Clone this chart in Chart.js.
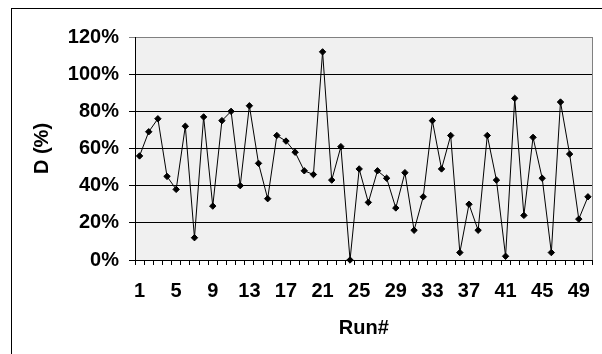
<!DOCTYPE html>
<html>
<head>
<meta charset="utf-8">
<script src="https://cdn.jsdelivr.net/npm/chart.js@4/dist/chart.umd.min.js"></script>
<style>
    html, body { margin: 0; padding: 0; background: #ffffff; }
    #wrap { width: 602px; height: 354px; }
</style>
</head>
<body>
<div id="wrap"><canvas id="runChart" width="602" height="354"></canvas></div>
<script>
    // run numbers 1..50
    const runs = [
        1, 2, 3, 4, 5, 6, 7, 8, 9, 10,
        11, 12, 13, 14, 15, 16, 17, 18, 19, 20,
        21, 22, 23, 24, 25, 26, 27, 28, 29, 30,
        31, 32, 33, 34, 35, 36, 37, 38, 39, 40,
        41, 42, 43, 44, 45, 46, 47, 48, 49, 50
    ];

    // D (%) per run
    const dValues = [
        56, 69, 76, 45, 38, 72, 12, 77, 29, 75,
        80, 40, 83, 52, 33, 67, 64, 58, 48, 46,
        112, 43, 61, 0, 49, 31, 48, 44, 28, 47,
        16, 34, 75, 49, 67, 4, 30, 16, 67, 43,
        2, 87, 24, 66, 44, 4, 85, 57, 22, 34
    ];

    const yTicks = [0, 20, 40, 60, 80, 100, 120];
    const labelEvery = 4;

    const boldFont = { family: 'Arial, "Liberation Sans", sans-serif', size: 20, weight: 'bold' };

    // outer frame, plot background and right border
    const framePlugin = {
        id: 'frame',
        beforeDraw: function(chart) {
            const ctx = chart.ctx;
            const area = chart.chartArea;
            ctx.save();
            ctx.fillStyle = '#ffffff';
            ctx.fillRect(0, 0, chart.width, chart.height);
            ctx.strokeStyle = '#000000';
            ctx.lineWidth = 1;
            ctx.strokeRect(11.5, 8.5, chart.width + 20, chart.height + 20);
            ctx.fillStyle = '#f0f0f0';
            ctx.fillRect(area.left, area.top, area.right - area.left, area.bottom - area.top);
            ctx.restore();
        },
        afterDatasetsDraw: function(chart) {
            const ctx = chart.ctx;
            const area = chart.chartArea;
            ctx.save();
            ctx.strokeStyle = '#808080';
            ctx.lineWidth = 1;
            ctx.beginPath();
            ctx.moveTo(Math.round(area.right) - 0.5, area.top);
            ctx.lineTo(Math.round(area.right) - 0.5, area.bottom);
            ctx.stroke();
            ctx.restore();
        }
    };

    new Chart(document.getElementById('runChart'), {
        type: 'line',
        data: {
            labels: runs,
            datasets: [{
                data: dValues,
                borderColor: '#000000',
                borderWidth: 1,
                backgroundColor: '#000000',
                pointStyle: 'rectRot',
                pointRadius: 3.2,
                pointBorderWidth: 1,
                pointBorderColor: '#000000',
                pointBackgroundColor: '#000000',
                tension: 0,
                fill: false,
                clip: false,
            }],
        },
        options: {
            responsive: false,
            animation: false,
            events: [],
            layout: { padding: { left: 0, top: 37, right: 6, bottom: 0 } },
            plugins: {
                legend: { display: false },
                tooltip: { enabled: false },
            },
            scales: {
                x: {
                    type: 'category',
                    offset: true,
                    afterFit: function(scale) { scale.height = 94; },
                    grid: {
                        offset: true,
                        drawOnChartArea: false,
                        drawTicks: true,
                        tickLength: 5,
                        color: '#000000',
                        lineWidth: 1,
                    },
                    border: { display: true, color: '#000000', width: 1 },
                    ticks: {
                        autoSkip: false,
                        maxRotation: 0,
                        padding: 14,
                        color: '#000000',
                        font: boldFont,
                        callback: function(value, index) {
                            return index % labelEvery === 0 ? String(runs[index]) : '';
                        },
                    },
                    title: {
                        display: true,
                        text: 'Run#',
                        color: '#000000',
                        font: boldFont,
                        padding: { top: 0, bottom: 14 },
                    },
                },
                y: {
                    min: yTicks[0],
                    max: yTicks[yTicks.length - 1],
                    afterFit: function(scale) { scale.width = 135; },
                    afterBuildTicks: function(scale) {
                        scale.ticks = yTicks.map(function(v) { return { value: v }; });
                    },
                    grid: {
                        drawTicks: true,
                        tickLength: 6,
                        color: function(c) {
                            return c.tick && c.tick.value === 120 ? '#808080' : '#000000';
                        },
                        lineWidth: 1,
                    },
                    border: { display: true, color: '#000000', width: 1 },
                    ticks: {
                        padding: 10,
                        color: '#000000',
                        font: boldFont,
                        callback: function(value) { return value + '%'; },
                    },
                    title: {
                        display: true,
                        text: 'D (%)',
                        color: '#000000',
                        font: boldFont,
                        padding: { top: 30, bottom: 0 },
                    },
                },
            },
        },
        plugins: [framePlugin],
    });
</script>
</body>
</html>
